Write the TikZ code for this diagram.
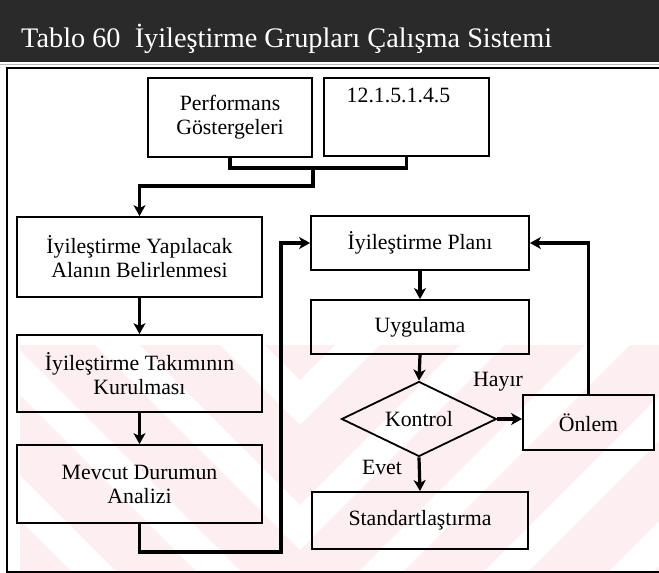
\documentclass[tikz,border=0pt]{standalone}
\usepackage{fontspec}
\setmainfont{Liberation Serif}
\usetikzlibrary{arrows.meta,shapes.geometric}
\definecolor{wm}{RGB}{253,239,241}
\definecolor{band}{RGB}{42,42,42}
\begin{document}
\begin{tikzpicture}[x=1pt,y=-1pt,
  box/.style={draw, line width=1.8pt, inner sep=0pt, align=center, font=\fontsize{21.8}{24}\selectfont},
  link/.style={line width=3.2pt},
  arr/.style={line width=3.2pt, -{Stealth[length=11pt,width=12pt,inset=3pt]}},
  lbl/.style={font=\fontsize{21.8}{24}\selectfont, inner sep=0pt}]
\useasboundingbox (0,0) rectangle (659,573);
% watermark stripes
\begin{scope}
  \clip (20,345) rectangle (300,573);
  \foreach \c in {-705,-580,-455,-330,-205,-80}
    \fill[wm] ({\c+345},345) -- ({\c+80+345},345) -- ({\c+80+573},573) -- ({\c+573},573) -- cycle;
\end{scope}
\begin{scope}
  \clip (300,345) rectangle (659,573);
  \foreach \c in {600,725,850,975,1100,1225}
    \fill[wm] ({\c-345},345) -- ({\c+80-345},345) -- ({\c+80-573},573) -- ({\c-573},573) -- cycle;
\end{scope}
% header
\fill[band] (0,0) rectangle (659,62);
\node[anchor=base west, text=white, font=\fontsize{28.3}{30}\selectfont, inner sep=0pt] (title) at (21,47) {Tablo 60 \ İyileştirme Grupları Çalışma Sistemi};
\draw[gray!55, line width=1.5pt] (0,64.5) -- (659,64.5);
% frame
\draw[line width=2pt] (670,68) -- (7,68) -- (7,572) -- (670,572);
% nodes
\node[box, minimum width=164pt, minimum height=79pt] (perf) at (230,117.5) {Performans\\Göstergeleri};
\node[box, minimum width=165pt, minimum height=78pt] (code) at (406.5,117) {};
\node[lbl] (codetxt) at (398.5,95) {12.1.5.1.4.5};
\node[box, minimum width=245pt, minimum height=80pt] (yap) at (139.5,257) {İyileştirme Yapılacak\\Alanın Belirlenmesi};
\node[box, minimum width=245pt, minimum height=77pt] (tak) at (139.5,373.5) {İyileştirme Takımının\\Kurulması};
\node[box, minimum width=245pt, minimum height=78pt] (mev) at (139.5,484) {Mevcut Durumun\\Analizi};
\node[box, minimum width=218pt, minimum height=54pt] (plan) at (420,243) {İyileştirme Planı};
\node[box, minimum width=218pt, minimum height=54pt] (uyg) at (420,327) {Uygulama};
\node[box, diamond, aspect=2, minimum width=155pt, minimum height=75pt] (kon) at (419,419) {Kontrol};
\node[box, minimum width=216pt, minimum height=57pt] (std) at (420,520.5) {Standartlaştırma};
\node[box, minimum width=131pt, minimum height=55pt] (onl) at (588.5,422.5) {Önlem};
\node[lbl] (hayir) at (498,382) {Hayır};
\node[lbl] (evet) at (382,467) {Evet};
% connectors
\coordinate (m) at (313,168);
\coordinate (k) at (139.5,186);
\coordinate (c1) at (281,552);
\draw[link] (perf.south) |- (m) -| (code.south);
\draw[arr] (m) |- (k) -- (yap.north);
\draw[arr] (yap.south) -- (tak.north);
\draw[arr] (tak.south) -- (mev.north);
\draw[arr] (mev.south) |- (c1) |- (plan.west);
\draw[arr] (plan.south) -- (uyg.north);
\draw[arr] (uyg.south) -- (kon.north);
\draw[arr] (kon.south) -- (std.north);
\draw[arr] (kon.east) -- (kon.east -| onl.west);
\draw[arr] (onl.north) |- (plan.east);
\end{tikzpicture}
\end{document}
